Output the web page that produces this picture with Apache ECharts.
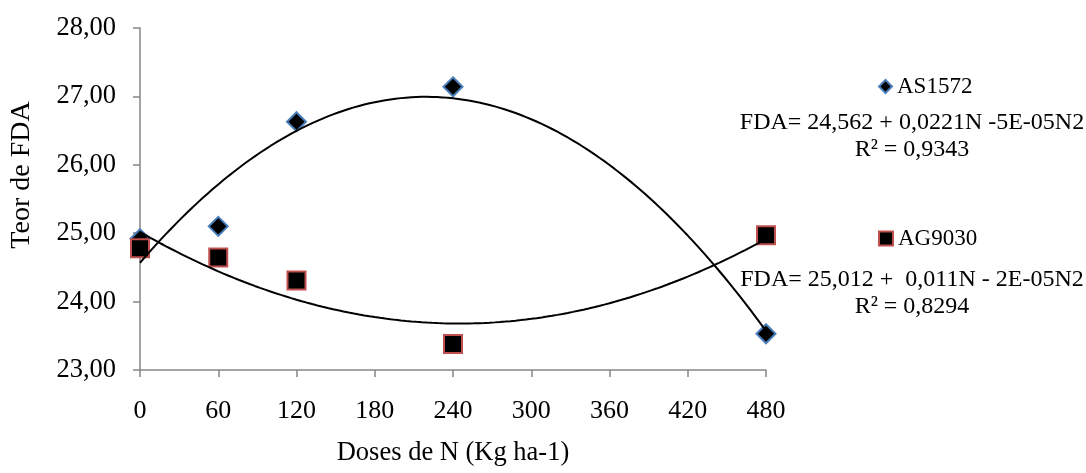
<!DOCTYPE html>
<html>
<head>
<meta charset="utf-8">
<script src="https://cdn.jsdelivr.net/npm/echarts@6/dist/echarts.min.js"></script>
<style>
  html, body { margin: 0; padding: 0; background: #fff; }
  #chart { width: 1086px; height: 473px; }
</style>
</head>
<body>
<div id="chart"></div>
<script>
// Nitrogen doses (kg/ha) and FDA content for the two hybrids
const doses = [0, 60, 120, 240, 480];
const as1572 = [24.92, 25.10, 26.63, 27.14, 23.53];
const ag9030 = [24.78, 24.645, 24.31, 23.38, 24.97];
const seriesNames = ['AS1572', 'AG9030'];
const equations = [
  ['FDA= 24,562 + 0,0221N -5E-05N2', 'R² = 0,9343'],
  ['FDA= 25,012 +  0,011N - 2E-05N2', 'R² = 0,8294']
];
const xTicks = { min: 0, max: 480, step: 60 };
const yTicks = { min: 23, max: 28, step: 1 };

const FONT = 'Liberation Serif';

// Least-squares quadratic fit (polynomial trendline, order 2)
function quadFit(xs, ys) {
  let s = [0, 0, 0, 0, 0], t = [0, 0, 0];
  for (let i = 0; i < xs.length; i++) {
    let p = 1;
    for (let k = 0; k < 5; k++) { s[k] += p; if (k < 3) t[k] += p * ys[i]; p *= xs[i]; }
  }
  const A = [[s[0], s[1], s[2], t[0]], [s[1], s[2], s[3], t[1]], [s[2], s[3], s[4], t[2]]];
  for (let c = 0; c < 3; c++) {
    for (let r = c + 1; r < 3; r++) {
      const f = A[r][c] / A[c][c];
      for (let k = c; k < 4; k++) A[r][k] -= f * A[c][k];
    }
  }
  const b = [0, 0, 0];
  for (let r = 2; r >= 0; r--) {
    let v = A[r][3];
    for (let k = r + 1; k < 3; k++) v -= A[r][k] * b[k];
    b[r] = v / A[r][r];
  }
  return b;
}
function trend(xs, ys) {
  const b = quadFit(xs, ys);
  const out = [];
  const x0 = xs[0], x1 = xs[xs.length - 1];
  for (let x = x0; x <= x1 + 1e-9; x += 4) out.push([x, b[0] + b[1] * x + b[2] * x * x]);
  return out;
}

const pts = (ys) => doses.map((d, i) => [d, ys[i]]);

const chart = echarts.init(document.getElementById('chart'));
const grey = { color: '#868686', width: 1.5 };

chart.setOption({
  animation: false,
  backgroundColor: '#fff',
  grid: { left: 140, right: 320, top: 28, bottom: 103 },
  xAxis: {
    type: 'value', min: xTicks.min, max: xTicks.max, interval: xTicks.step,
    axisLine: { lineStyle: grey },
    axisTick: { show: true, length: 7, lineStyle: grey },
    splitLine: { show: false },
    axisLabel: { fontFamily: FONT, fontSize: 26, color: '#000', margin: 28 }
  },
  yAxis: {
    type: 'value', min: yTicks.min, max: yTicks.max, interval: yTicks.step,
    axisLine: { show: true, lineStyle: grey },
    axisTick: { show: true, length: 7, lineStyle: grey },
    splitLine: { show: false },
    axisLabel: {
      fontFamily: FONT, fontSize: 26.5, color: '#000', margin: 24,
      formatter: (v) => v.toFixed(2).replace('.', ',')
    }
  },
  legend: [
    {
      data: [seriesNames[0]], left: 873, top: 70, orient: 'vertical',
      itemWidth: 13, itemHeight: 13,
      textStyle: { fontFamily: FONT, fontSize: 23, color: '#000' }
    },
    {
      data: [seriesNames[1]], left: 873, top: 222, orient: 'vertical',
      itemWidth: 14, itemHeight: 14,
      textStyle: { fontFamily: FONT, fontSize: 23, color: '#000' }
    }
  ],
  graphic: [
    { type: 'text', x: 453, y: 453,
      style: { text: 'Doses de N (Kg ha-1)', font: '26.5px ' + FONT, fill: '#000',
               textAlign: 'center', textVerticalAlign: 'middle' } },
    { type: 'text', x: 22, y: 175, rotation: Math.PI / 2,
      style: { text: 'Teor de FDA', font: '28px ' + FONT, fill: '#000',
               textAlign: 'center', textVerticalAlign: 'middle' } },
    { type: 'text', x: 912, y: 123,
      style: { text: equations[0][0], font: '24px ' + FONT, fill: '#000', textAlign: 'center', textVerticalAlign: 'middle' } },
    { type: 'text', x: 912, y: 150,
      style: { text: equations[0][1], font: '24px ' + FONT, fill: '#000', textAlign: 'center', textVerticalAlign: 'middle' } },
    { type: 'text', x: 912, y: 280,
      style: { text: equations[1][0], font: '24px ' + FONT, fill: '#000', textAlign: 'center', textVerticalAlign: 'middle' } },
    { type: 'text', x: 912, y: 307,
      style: { text: equations[1][1], font: '24px ' + FONT, fill: '#000', textAlign: 'center', textVerticalAlign: 'middle' } }
  ],
  series: [
    {
      name: seriesNames[0], type: 'scatter', data: pts(as1572),
      symbol: 'diamond', symbolSize: 19, z: 3,
      itemStyle: { color: '#000', opacity: 1, borderColor: '#4a7ebb', borderWidth: 2 }
    },
    {
      name: seriesNames[1], type: 'scatter', data: pts(ag9030),
      symbol: 'rect', symbolSize: 18, z: 3,
      itemStyle: { color: '#000', opacity: 1, borderColor: '#c0504d', borderWidth: 2 }
    },
    {
      name: 'trend-as', type: 'line', data: trend(doses, as1572), showSymbol: false,
      lineStyle: { color: '#000', width: 2 }, z: 4, silent: true
    },
    {
      name: 'trend-ag', type: 'line', data: trend(doses, ag9030), showSymbol: false,
      lineStyle: { color: '#000', width: 2 }, z: 4, silent: true
    }
  ]
});
</script>
</body>
</html>
